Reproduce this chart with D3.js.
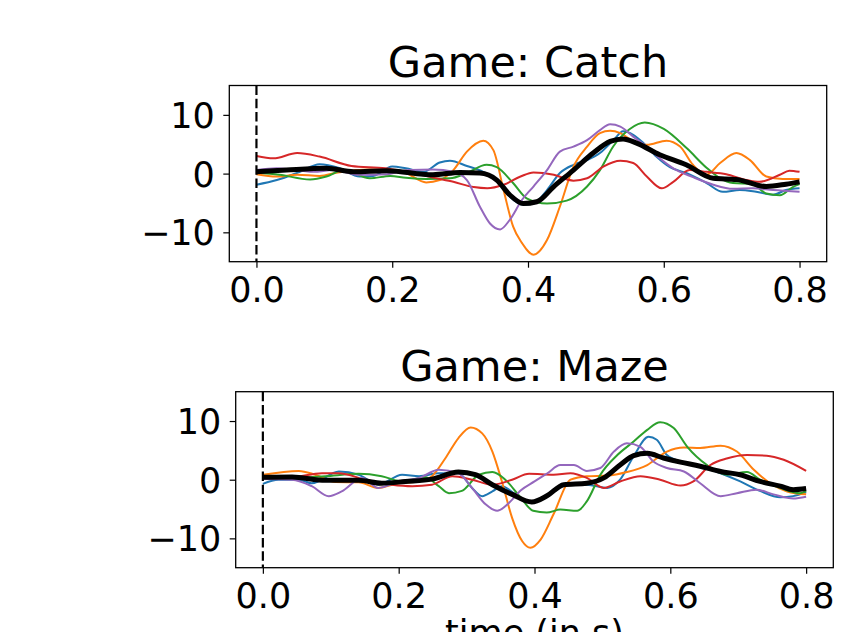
<!DOCTYPE html>
<html lang="en">
  <head>
    <meta charset="UTF-8" />
    <title>Game: Catch / Game: Maze</title>
    <script src="https://d3js.org/d3.v7.min.js"></script>
    <style>
      body { margin: 0; background: #fff; }
      text { font-family: "DejaVu Sans", sans-serif; fill: #000; }
    </style>
  </head>
  <body>
    <svg width="853" height="632"></svg>
    <script>
      // values: [time in s, amplitude]
      const catchBlue = [[0,-1.9],[0.03,-1.1],[0.064,0.3],[0.093,1.6],[0.123,0.9],[0.152,-0.5],[0.172,-0.4],[0.2,1.2],[0.22,0.9],[0.246,0.3],[0.27,1.9],[0.285,2.2],[0.31,1.3],[0.334,0.3],[0.354,-1.1],[0.373,-3.9],[0.393,-5.3],[0.408,-5.1],[0.428,-2.8],[0.447,0.1],[0.467,1.5],[0.487,2.3],[0.506,3.5],[0.526,5.7],[0.54,7.2],[0.555,6.6],[0.57,5.2],[0.589,2.9],[0.609,1.1],[0.633,0.1],[0.663,-1.6],[0.687,-3.1],[0.712,-2.8],[0.736,-3.1],[0.761,-3.6],[0.78,-2.8],[0.8,-2.5]];
      const catchOrange = [[0,-0.1],[0.03,-0.5],[0.06,-0.2],[0.093,-0.4],[0.12,0.2],[0.167,0.7],[0.2,0.6],[0.22,0.1],[0.25,-1.5],[0.27,-1.1],[0.29,0.6],[0.31,3.75],[0.334,5.6],[0.349,4.0],[0.364,-2.8],[0.378,-9.0],[0.391,-11.8],[0.408,-13.8],[0.428,-11.3],[0.447,-5.6],[0.467,1.2],[0.487,4.6],[0.506,6.9],[0.521,7.3],[0.536,6.9],[0.555,5.5],[0.575,4.9],[0.604,5.6],[0.624,4.6],[0.643,1.5],[0.663,-0.2],[0.683,1.8],[0.707,3.5],[0.727,2.3],[0.751,-0.5],[0.775,-0.9],[0.8,-0.9]];
      const catchGreen = [[0,0.2],[0.034,-0.2],[0.079,-1.0],[0.103,-0.5],[0.128,0.6],[0.167,-0.8],[0.197,-0.4],[0.22,-0.7],[0.25,-0.9],[0.285,-0.8],[0.31,0.1],[0.339,1.5],[0.354,1.1],[0.378,-1.6],[0.398,-4.2],[0.428,-5.1],[0.457,-4.6],[0.487,-2.2],[0.506,0.6],[0.526,4.7],[0.55,7.6],[0.572,8.7],[0.6,7.6],[0.634,4.3],[0.663,1.0],[0.683,-0.8],[0.702,-1.6],[0.731,-1.8],[0.751,-3.4],[0.771,-3.7],[0.79,-2.3],[0.8,-1.8]];
      const catchRed = [[0,3.0],[0.025,2.6],[0.06,3.5],[0.093,2.9],[0.14,1.3],[0.19,0.9],[0.22,0.3],[0.265,-0.8],[0.29,-1.4],[0.32,-2.3],[0.34,-2.5],[0.364,-1.9],[0.389,-0.5],[0.408,0.2],[0.438,-0.2],[0.467,-1.2],[0.487,-0.8],[0.511,1.2],[0.536,2.2],[0.555,1.8],[0.575,-0.5],[0.597,-2.5],[0.614,-1.4],[0.638,0.6],[0.663,0.3],[0.692,-0.1],[0.722,-1.1],[0.741,-1.4],[0.771,-0.2],[0.785,0.5],[0.8,0.3]];
      const catchPurple = [[0,0.6],[0.03,0.9],[0.084,0.3],[0.113,0.6],[0.152,-0.2],[0.192,-0.1],[0.226,0.6],[0.26,0.7],[0.29,0.3],[0.31,-1.1],[0.329,-5.6],[0.344,-8.5],[0.359,-9.5],[0.373,-7.9],[0.391,-4.5],[0.408,-2.2],[0.428,0.6],[0.447,3.75],[0.467,4.6],[0.487,5.7],[0.506,7.4],[0.521,8.4],[0.536,8.0],[0.555,6.3],[0.575,4.6],[0.594,2.6],[0.614,0.9],[0.643,-0.6],[0.673,-1.9],[0.702,-2.6],[0.731,-2.5],[0.761,-2.8],[0.8,-3.1]];
      const catchMean = [[0,0.3],[0.044,0.6],[0.103,0.9],[0.143,0.3],[0.192,0.5],[0.26,-0.2],[0.3,0.2],[0.329,0.1],[0.354,-1.1],[0.373,-3.6],[0.393,-5.1],[0.413,-4.8],[0.438,-2.2],[0.467,0.6],[0.496,3.5],[0.521,5.5],[0.54,5.9],[0.56,5.2],[0.594,3.2],[0.633,1.5],[0.673,-0.8],[0.707,-1.0],[0.751,-2.2],[0.78,-1.8],[0.8,-1.4]];

      const mazeBlue = [[0,-0.7],[0.023,0],[0.053,0],[0.072,-0.6],[0.112,1.4],[0.141,0.85],[0.17,-0.85],[0.205,0.85],[0.23,0.6],[0.259,1.1],[0.288,1.1],[0.308,-1.4],[0.323,-2.8],[0.338,-2.0],[0.352,-1.1],[0.372,-2.5],[0.396,-3.8],[0.419,-2.8],[0.448,-0.85],[0.477,-0.85],[0.507,-1.4],[0.526,0],[0.546,4.0],[0.568,7.3],[0.58,6.8],[0.595,4.2],[0.615,3.1],[0.644,2.3],[0.674,1.1],[0.703,-0.3],[0.732,-1.9],[0.762,-3.0],[0.781,-2.8],[0.8,-2.1]];
      const mazeOrange = [[0,0.85],[0.053,1.5],[0.077,0.85],[0.107,-0.4],[0.141,-0.45],[0.17,-1.4],[0.2,-0.6],[0.23,-0.3],[0.249,0.6],[0.269,3.7],[0.288,7.1],[0.306,8.9],[0.323,7.9],[0.338,4.8],[0.352,-0.3],[0.367,-6.5],[0.382,-10.5],[0.394,-11.6],[0.409,-10.2],[0.428,-5.9],[0.453,0],[0.477,0.6],[0.507,0.7],[0.536,1.3],[0.566,2.5],[0.595,4.8],[0.62,5.5],[0.644,5.4],[0.674,5.8],[0.698,4.8],[0.723,1.7],[0.747,-0.6],[0.772,-2.0],[0.8,-2.5]];
      const mazeGreen = [[0,0.6],[0.043,0.3],[0.092,0.6],[0.141,1.0],[0.175,0.6],[0.205,-0.3],[0.239,0.4],[0.259,-1.1],[0.274,-2.3],[0.293,-1.9],[0.318,0.85],[0.338,1.3],[0.357,0],[0.378,-2.8],[0.398,-5.3],[0.418,-5.6],[0.438,-5.1],[0.463,-5.3],[0.477,-3.7],[0.497,0.85],[0.522,4.2],[0.546,6.5],[0.566,8.5],[0.585,9.8],[0.605,8.8],[0.625,5.6],[0.654,2.5],[0.683,0.85],[0.713,1.3],[0.732,0],[0.762,-1.4],[0.791,-2.3],[0.8,-1.9]];
      const mazeRed = [[0,0.3],[0.043,0.4],[0.087,1.1],[0.112,1.1],[0.151,0],[0.19,-0.85],[0.22,-1.1],[0.249,-0.85],[0.279,0.6],[0.308,0],[0.338,-0.85],[0.367,0],[0.392,1.0],[0.428,0.85],[0.453,1.1],[0.477,0.3],[0.502,-1.4],[0.526,-0.3],[0.556,0.6],[0.585,0],[0.615,-1.0],[0.634,-0.3],[0.659,2.5],[0.683,3.6],[0.713,4.2],[0.742,4.1],[0.767,3.4],[0.8,1.5]];
      const mazePurple = [[0,0.1],[0.043,0],[0.072,-1.1],[0.097,-2.8],[0.116,-2.0],[0.146,0.3],[0.17,-1.4],[0.2,-0.3],[0.23,0.3],[0.259,1.7],[0.288,1.1],[0.308,-1.4],[0.328,-4.2],[0.345,-5.3],[0.362,-4.0],[0.38,-1.8],[0.4,-0.3],[0.419,1.1],[0.438,2.5],[0.458,2.5],[0.477,1.5],[0.497,2.0],[0.517,4.8],[0.536,6.2],[0.556,5.6],[0.575,3.1],[0.595,2.0],[0.62,1.4],[0.644,-0.6],[0.674,-2.8],[0.698,-2.3],[0.727,-1.7],[0.752,-2.5],[0.781,-3.2],[0.8,-2.9]];
      const mazeMean = [[0,0.4],[0.043,0.45],[0.092,-0.1],[0.141,-0.1],[0.175,-0.6],[0.21,-0.3],[0.249,0.1],[0.288,1.3],[0.313,0.85],[0.338,-0.85],[0.367,-2.5],[0.396,-3.8],[0.419,-2.7],[0.443,-0.85],[0.477,-0.6],[0.502,0.3],[0.526,2.5],[0.546,4.1],[0.566,4.5],[0.59,3.7],[0.615,3.0],[0.644,2.3],[0.674,1.4],[0.703,0.85],[0.732,-0.3],[0.762,-1.1],[0.781,-1.7],[0.8,-1.5]];

      const xTicks = [0, 0.2, 0.4, 0.6, 0.8];
      const yTicks = [-10, 0, 10];
      const colors = ["#1f77b4", "#ff7f0e", "#2ca02c", "#d62728", "#9467bd"];

      const panels = [
        { title: "Game: Catch", series: [catchBlue, catchOrange, catchGreen, catchRed, catchPurple], mean: catchMean,
          left: 229.3, right: 826.7, top: 85.5, bottom: 261.7, titleY: 77 },
        { title: "Game: Maze", series: [mazeBlue, mazeOrange, mazeGreen, mazeRed, mazePurple], mean: mazeMean,
          left: 235.7, right: 833.3, top: 391.7, bottom: 567.7, titleY: 380.7 }
      ];

      const svg = d3.select("svg");

      panels.forEach(function (p, i) {
        const x = d3.scaleLinear().domain([-0.04, 0.84]).range([p.left, p.right]);
        const y = d3.scaleLinear().domain([-15, 15]).range([p.bottom, p.top]);

        const line = d3.line()
          .x(d => x(d[0]))
          .y(d => y(d[1]))
          .curve(d3.curveMonotoneX);

        svg.append("clipPath").attr("id", "clip" + i)
          .append("rect")
          .attr("x", p.left).attr("y", p.top)
          .attr("width", p.right - p.left).attr("height", p.bottom - p.top);

        const g = svg.append("g").attr("clip-path", "url(#clip" + i + ")");

        g.selectAll("path.trial")
          .data(p.series)
          .enter()
          .append("path")
          .attr("class", "trial")
          .attr("d", line)
          .attr("fill", "none")
          .attr("stroke", (d, j) => colors[j])
          .attr("stroke-width", 2);

        g.append("path")
          .attr("d", line(p.mean))
          .attr("fill", "none")
          .attr("stroke", "black")
          .attr("stroke-width", 5)
          .attr("stroke-linejoin", "round");

        // stimulus onset
        g.append("line")
          .attr("x1", x(0)).attr("x2", x(0))
          .attr("y1", p.top).attr("y2", p.bottom)
          .attr("stroke", "black")
          .attr("stroke-width", 2.2)
          .attr("stroke-dasharray", "9.5,3.8");

        // x axis
        const xa = svg.append("g")
          .attr("transform", "translate(0," + p.bottom + ")")
          .call(d3.axisBottom(x).tickValues(xTicks).tickFormat(d3.format(".1f")).tickSize(6));
        xa.select(".domain").remove();
        xa.selectAll("line").attr("stroke", "black").attr("stroke-width", 1.2);
        xa.selectAll("text")
          .attr("y", 40).attr("dy", null)
          .attr("font-size", 35)
          .attr("font-family", "DejaVu Sans")
          .attr("fill", "black");

        // y axis
        const ya = svg.append("g")
          .attr("transform", "translate(" + p.left + ",0)")
          .call(d3.axisLeft(y).tickValues(yTicks).tickSize(6));
        ya.select(".domain").remove();
        ya.selectAll("line").attr("stroke", "black").attr("stroke-width", 1.2);
        ya.selectAll("text")
          .attr("x", -14.5).attr("dy", "0.36em")
          .attr("font-size", 35)
          .attr("font-family", "DejaVu Sans")
          .attr("fill", "black");

        // frame
        svg.append("rect")
          .attr("x", p.left).attr("y", p.top)
          .attr("width", p.right - p.left).attr("height", p.bottom - p.top)
          .attr("fill", "none")
          .attr("stroke", "black")
          .attr("stroke-width", 1.3);

        svg.append("text")
          .attr("x", (p.left + p.right) / 2)
          .attr("y", p.titleY)
          .attr("text-anchor", "middle")
          .attr("font-size", 43)
          .text(p.title);

        if (i === panels.length - 1) {
          svg.append("text")
            .attr("x", (p.left + p.right) / 2)
            .attr("y", 645)
            .attr("text-anchor", "middle")
            .attr("font-size", 35)
            .text("time (in s)");
        }
      });
    </script>
  </body>
</html>
